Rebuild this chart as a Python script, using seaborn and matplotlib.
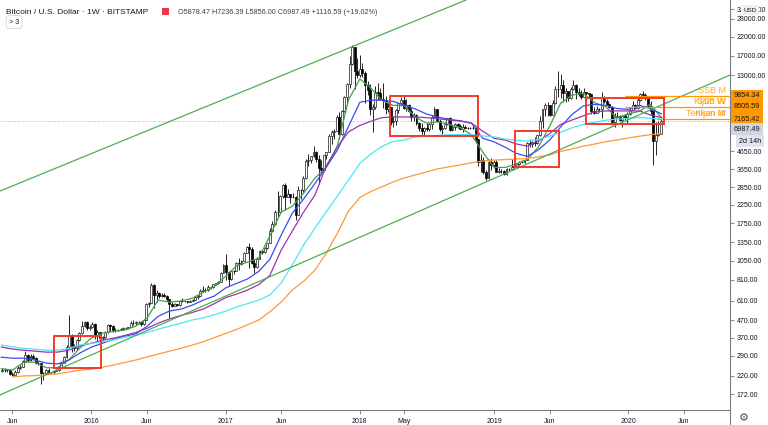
import matplotlib
matplotlib.use("Agg")
import matplotlib.pyplot as plt
import matplotlib.dates as mdates
from matplotlib.patches import Rectangle
from matplotlib.lines import Line2D
from matplotlib.ticker import NullLocator
import numpy as np
import pandas as pd
import seaborn as sns

# ---- weekly candles (BITSTAMP BTCUSD), one per week from 2015-05-04 ----
first_week = "2015-05-04"
first_open = 236.0
last_open = 5878.47

closes = [
    # 2015
    240, 237, 240, 225, 223, 232, 244, 250, 270, 292, 275, 289, 282, 262, 261, 230, 228, 240,
    232, 231, 235, 239, 245, 262, 283, 325, 385, 330, 323, 360, 395, 435, 455, 422, 430,
    # 2016
    448, 380, 402, 370, 374, 400, 437, 432, 412, 413, 410, 417, 420, 421, 428, 450, 451, 459,
    456, 443, 468, 585, 590, 760, 660, 680, 650, 660, 655, 623, 585, 568, 585, 575, 610, 607,
    605, 603, 612, 617, 640, 653, 700, 705, 705, 740, 735, 765, 775, 790, 895, 995,
    # 2017
    905, 820, 920, 915, 1020, 1000, 1050, 1165, 1270, 1230, 1020, 960, 1080, 1195, 1180, 1250,
    1340, 1570, 1740, 2050, 2050, 2520, 2950, 2510, 2590, 2500, 2500, 1950, 2750, 2750, 3250,
    4050, 4100, 4350, 4600, 4200, 3680, 3600, 4400, 4600, 5680, 6000, 6150, 7400, 5850, 8000,
    9700, 11500, 15200, 19000, 13900, 13000,
    # 2018
    14100, 13500, 11400, 10600, 8200, 8500, 10400, 10300, 9500, 9300, 8200, 8500, 6900, 7000,
    8100, 8900, 9300, 8400, 8700, 8000, 7350, 7650, 6800, 6400, 6100, 6380, 6300, 6700, 7400,
    8200, 7000, 6300, 6390, 6700, 7300, 6230, 6490, 6720, 6570, 6290, 6460, 6400, 6340, 6370,
    6390, 5500, 4000, 4140, 3520, 3210, 4010, 3860, 4020,
    # 2019
    3510, 3540, 3540, 3410, 3650, 3670, 3760, 3800, 3920, 4000, 3990, 4100, 5190, 5150, 5300,
    5200, 5760, 6980, 8200, 8730, 8740, 7640, 8890, 10830, 10820, 11450, 10250, 10570, 9530,
    10830, 11390, 10330, 10150, 9760, 10400, 10310, 10040, 8050, 7860, 8300, 8240, 9550, 9210,
    8800, 8510, 6910, 7420, 7520, 7080, 7510, 7390, 7750,
    # 2020
    8180, 8710, 8340, 9330, 10150, 9920, 9660, 8540, 8040, 5360, 5820, 5870.90, 6987.49,
]
highs = [
    246, 244, 242, 241, 231, 237, 252, 254, 275, 310, 295, 296, 297, 285, 268, 262, 233, 242,
    245, 233, 238, 241, 248, 266, 289, 335, 502, 390, 338, 364, 400, 466, 466, 466, 438,
    459, 450, 412, 398, 380, 405, 445, 443, 438, 422, 418, 420, 425, 425, 430, 462, 468, 465,
    462, 457, 475, 590, 600, 780, 770, 710, 690, 680, 675, 660, 620, 600, 592, 588, 615, 635,
    612, 610, 618, 622, 645, 660, 720, 745, 722, 755, 745, 770, 780, 795, 905, 1000,
    1150, 915, 925, 930, 1030, 1085, 1060, 1180, 1290, 1330, 1260, 1080, 1100, 1210, 1215, 1260,
    1345, 1640, 1800, 2100, 2700, 2580, 2980, 3000, 2780, 2600, 2620, 2520, 2900, 2780, 3300,
    4200, 4480, 4380, 4980, 4690, 4400, 4100, 4420, 4620, 5850, 6200, 6300, 7600, 7900, 8100,
    9800, 11800, 17000, 19666, 19000, 16500,
    17200, 15300, 13800, 12000, 11600, 8800, 11200, 11800, 11000, 11700, 9900, 9100, 8500, 7500,
    8200, 9000, 9750, 9950, 9400, 8800, 8400, 7800, 7750, 6880, 6800, 6500, 6800, 6800, 7550,
    8500, 8250, 7150, 6600, 6900, 7300, 7400, 6600, 6800, 6800, 6700, 6700, 6650, 6500, 6450,
    6550, 6450, 5500, 4500, 4300, 3600, 4200, 4250, 4100,
    4100, 3680, 3650, 3620, 3700, 3700, 4200, 3900, 3950, 4050, 4100, 4140, 5300, 5450, 5350,
    5650, 5800, 7500, 8300, 8900, 9100, 8100, 9300, 11200, 13800, 13200, 12300, 10900, 10200,
    11100, 12300, 11500, 10950, 10600, 10900, 10450, 10300, 10100, 8500, 8600, 8400, 10400, 9800,
    9450, 9000, 8600, 7850, 7950, 7600, 7550, 7700, 7900,
    8450, 9200, 8800, 9580, 10200, 10500, 10200, 9900, 9200, 7980, 6900, 6980, 7236.39,
]
lows = [
    232, 233, 232, 223, 220, 223, 230, 241, 248, 266, 265, 271, 278, 258, 256, 198, 209, 225,
    228, 226, 225, 234, 234, 244, 262, 281, 320, 305, 310, 315, 355, 390, 428, 410, 413,
    421, 365, 350, 362, 360, 368, 395, 405, 399, 400, 406, 408, 410, 414, 418, 425, 442, 440,
    448, 436, 440, 468, 560, 590, 550, 600, 630, 645, 645, 610, 480, 560, 565, 565, 568, 600,
    598, 592, 597, 606, 615, 628, 650, 685, 690, 695, 720, 725, 755, 765, 790, 890,
    810, 750, 810, 880, 910, 930, 990, 1050, 1160, 950, 1000, 890, 955, 1075, 1150, 1175,
    1240, 1340, 1560, 1700, 1900, 2000, 2450, 2100, 2500, 2300, 2450, 1830, 1950, 2420, 2680,
    3200, 3800, 3950, 4300, 4000, 2980, 3500, 3580, 4200, 4600, 5100, 5460, 6100, 5500, 5800,
    7900, 9000, 11000, 15000, 10800, 12500,
    12800, 12700, 9000, 10000, 7600, 6000, 8200, 9300, 9300, 8400, 7700, 7900, 6600, 6450,
    6600, 7800, 8600, 8300, 8000, 7950, 7050, 7000, 6600, 6150, 5800, 5780, 6100, 6100, 6300,
    7350, 6900, 6100, 5900, 6300, 6650, 6150, 6150, 6200, 6400, 6250, 6000, 6350, 6300, 6250,
    6300, 5200, 3800, 3500, 3400, 3150, 3200, 3600, 3700,
    3500, 3480, 3450, 3380, 3350, 3570, 3600, 3700, 3680, 3850, 3950, 3950, 4100, 4900, 4950,
    5000, 5150, 5700, 6400, 7500, 7500, 7450, 7550, 8850, 9700, 9600, 9100, 9100, 9200, 9400,
    10600, 9500, 9800, 9400, 9700, 9950, 9600, 7750, 7700, 7900, 7900, 7300, 8950, 8650, 8350,
    6600, 6500, 7250, 7000, 6450, 7100, 6850,
    7650, 8150, 8300, 8250, 9150, 9600, 9300, 8500, 7630, 3850, 4400, 5700, 5856.00,
]

# ---- moving averages, one value per month ----
ma_start, ma_end = "2015-05-01", "2020-04-01"
ma_green = [
    243, 238, 265, 265, 246, 246, 273, 321,
    367, 393, 403, 410, 432, 483, 616, 600, 608, 631, 684, 741,
    852, 987, 1030, 1090, 1470, 2035, 2200, 2630, 3230, 3710, 5000, 9300,
    12400, 10900, 9300, 8660, 8660, 7390, 6800, 6930, 6700, 6400, 5800, 4600,
    3730, 3730, 3900, 4150, 4890, 6500, 8900, 9950, 10200, 9000, 8500, 7300,
    7700, 8000, 8800, 7300,
]
ma_blue = [
    284, 280, 280, 273, 262, 259, 273, 300,
    325, 343, 362, 377, 389, 432, 494, 531, 545, 574, 616, 651,
    727, 775, 820, 910, 1070, 1490, 2000, 2430, 3000, 3730, 4720, 6500,
    9030, 9300, 9300, 9150, 8700, 8250, 7710, 7390, 7160, 7030, 6800, 5540,
    5280, 4900, 4530, 4330, 4720, 5400, 6450, 7650, 8600, 8780, 8660, 8300,
    8200, 8660, 8300, 7710,
]
ma_purple = [
    326, 317, 312, 308, 304, 304, 312, 330,
    343, 358, 367, 381, 397, 420, 450, 477, 500, 520, 546, 587,
    637, 670, 706, 760, 860, 1215, 1570, 2035, 2570, 3790, 4940, 6040,
    6600, 6990, 7330, 7400, 7400, 7400, 7330, 7230, 7100, 7000, 6800, 6110,
    5540, 5400, 5140, 4980, 5330, 5890, 6680, 7100, 7510, 7920, 8030, 8030,
    8030, 8030, 7610, 7330,
]
ma_cyan = [
    335, 327, 320, 316, 312, 312, 320, 335,
    342, 350, 358, 372, 381, 397, 415, 432, 450, 470, 484, 505,
    530, 562, 587, 616, 660, 777, 990, 1300, 1640, 2035, 2530, 3140,
    3940, 4500, 4950, 5300, 5410, 5650, 5730, 5760, 5820, 5820, 5820, 5730,
    5650, 5480, 5400, 5330, 5450, 5700, 6000, 6390, 6690, 6880, 7080, 7180,
    7260, 7360, 7260, 7180,
]
ma_orange = [
    np.nan, 217, 220, 221, 224, 226, 232, 238,
    241, 248, 255, 264, 273, 285, 296, 308, 320, 334, 350, 370,
    392, 415, 440, 470, 525, 600, 706, 795, 926, 1160, 1530, 2060,
    2480, 2700, 2860, 3060, 3230, 3370, 3510, 3660, 3760, 3860, 3970, 4070,
    4120, 4150, 4180, 4210, 4300, 4420, 4640, 4790, 4980, 5120, 5290, 5410,
    5560, 5700, 5820, 5900,
]
ma_names = ["green", "blue", "purple", "cyan", "orange"]
ma_colors = {"green": "#43a047", "blue": "#3a4cf0", "purple": "#9c33b0",
             "cyan": "#4fe6f2", "orange": "#ff9838"}

# ---- trend channel ----
channel_low_dates = ["2015-04-28", "2020-10-04"]
channel_low_prices = [170, 13070]
channel_up_dates = ["2015-04-28", "2018-10-17"]
channel_up_prices = [2707, 36200]

# ---- red boxes ----
box_starts = ["2015-09-22", "2018-03-24", "2019-02-27", "2019-09-08"]
box_ends = ["2016-01-28", "2018-11-18", "2019-06-26", "2020-04-07"]
box_lows = [245, 5680, 3745, 6710]
box_highs = [378, 9830, 6100, 9570]

# ---- ichimoku levels ----
level_prices = [9854.34, 8505.59, 7165.42]
level_starts = ["2019-12-23", "2019-12-23", "2020-03-19"]
level_names = [["SSB M"], ["SSB W", "Kijun W"], ["Tenkan W", "Kijun M"]]

last_close = 6987.49
prev_close = 5870.90
time_left = "2d 14h"

ytick_values = [172, 220, 290, 370, 470, 610, 810, 1050, 1350, 1750, 2250, 2850, 3650,
                4650, 13000, 17000, 22000, 28000, 32000]
xtick_dates = ["2015-06-01", "2016-01-01", "2016-06-01", "2017-01-01", "2017-06-01",
               "2018-01-01", "2018-05-01", "2019-01-01", "2019-06-01", "2020-01-01", "2020-06-01"]
xtick_labels = ["Jun", "2016", "Jun", "2017", "Jun", "2018", "May", "2019", "Jun", "2020", "Jun"]
x_range = ["2015-04-28", "2020-10-04"]
y_range = [138.6, 36200]

sns.set_theme(style="white")
plt.rcParams["font.family"] = ["Liberation Sans", "DejaVu Sans"]

fig = plt.figure(figsize=(7.68, 4.25), dpi=100)
ax = fig.add_axes([0, 15 / 425, 730 / 768, 410 / 425])
ax.set_yscale("log")

# moving averages
ma_dates = pd.date_range(ma_start, ma_end, freq="MS")
ma_df = pd.DataFrame({
    "date": np.tile(ma_dates.values, len(ma_names)),
    "value": np.concatenate([ma_green, ma_blue, ma_purple, ma_cyan, ma_orange]),
    "line": np.repeat(ma_names, len(ma_dates)),
})
sns.lineplot(data=ma_df, x="date", y="value", hue="line", hue_order=ma_names,
             palette=ma_colors, estimator=None, lw=0.9, legend=False, ax=ax, zorder=5)

# candles: hollow up weeks, filled down weeks
weeks = pd.date_range(first_week, periods=len(closes), freq="7D")
opens = [first_open] + closes[:-1]
opens[-1] = last_open
c = np.array(closes, dtype=float)
o = np.array(opens, dtype=float)
up = c >= o
xw = mdates.date2num(weeks)
ax.vlines(xw, lows, highs, color="black", lw=0.6, zorder=3)
ax.bar(xw[up], (c - o)[up], bottom=o[up], width=5.2, color="white",
       edgecolor="#1a1a1a", lw=0.5, zorder=4)
ax.bar(xw[~up], (o - c)[~up], bottom=c[~up], width=5.2, color="black",
       edgecolor="black", lw=0.5, zorder=4)

# trend channel
for d, p in [(channel_low_dates, channel_low_prices), (channel_up_dates, channel_up_prices)]:
    ax.plot(mdates.date2num(pd.to_datetime(d)), p, color="#4caf50", lw=0.9, zorder=6)

# red boxes
for s, e, lo, hi in zip(box_starts, box_ends, box_lows, box_highs):
    x0, x1 = mdates.date2num(pd.to_datetime([s, e]))
    ax.add_patch(Rectangle((x0, lo), x1 - x0, hi - lo, fill=False,
                           ec="#f23a2a", lw=1.4, zorder=7))

xlim = mdates.date2num(pd.to_datetime(x_range))
ax.set_xlim(*xlim)
ax.set_ylim(*y_range)

# last price dotted line
ax.axhline(last_close, color="#9598a1", lw=0.6, ls=(0, (1, 2)), zorder=1)

# ichimoku levels
ytr = ax.get_yaxis_transform()
for lv, st, names in zip(level_prices, level_starts, level_names):
    ax.hlines(lv, mdates.date2num(pd.Timestamp(st)), xlim[1], color="#ff9800", lw=0.9, zorder=6)
    for nm in names:
        ax.annotate(nm, xy=(0.994, lv), xycoords=ytr, xytext=(0, 1),
                    textcoords="offset pixels", ha="right", va="bottom",
                    fontsize=6.5, color="#ff9800", alpha=0.85, zorder=8)
    ax.annotate(f"{lv:.2f}", xy=(1, lv), xycoords=ytr, xytext=(4, 0),
                textcoords="offset pixels", ha="left", va="center", fontsize=5.2,
                color="#131722", annotation_clip=False,
                bbox=dict(boxstyle="square,pad=0.35", fc="#ff9800", ec="none"))

ax.annotate(f"{last_close:.2f}", xy=(1, last_close), xycoords=ytr, xytext=(4, -8),
            textcoords="offset pixels", ha="left", va="center", fontsize=5.2,
            color="#131722", annotation_clip=False,
            bbox=dict(boxstyle="square,pad=0.35", fc="#d1d4dc", ec="none"))
ax.annotate(time_left, xy=(1, last_close), xycoords=ytr, xytext=(9, -20),
            textcoords="offset pixels", ha="left", va="center", fontsize=5.2,
            color="#131722", annotation_clip=False,
            bbox=dict(boxstyle="square,pad=0.35", fc="#e0e3eb", ec="none"))

# axes styling
ax.yaxis.tick_right()
ax.set_yticks(ytick_values)
ax.set_yticklabels([f"{v:.2f}" for v in ytick_values])
ax.yaxis.set_minor_locator(NullLocator())
ax.set_xticks(mdates.date2num(pd.to_datetime(xtick_dates)))
ax.set_xticklabels(xtick_labels)
ax.set_xlabel("")
ax.set_ylabel("")
ax.tick_params(axis="y", which="major", length=3, width=0.6, color="#787b86",
               labelsize=5, labelcolor="#131722", pad=2, right=True, left=False,
               labelright=True, labelleft=False)
ax.tick_params(axis="x", length=3, width=0.6, color="#787b86", labelsize=5,
               labelcolor="#131722", pad=3, bottom=True)
for sp in ["left", "top"]:
    ax.spines[sp].set_visible(False)
for sp in ["right", "bottom"]:
    ax.spines[sp].set_color("#787b86")
    ax.spines[sp].set_linewidth(0.8)
ax.grid(False)

fig.add_artist(Line2D([730 / 768, 730 / 768], [0, 15 / 425], color="#787b86", lw=0.8))
fig.text(744 / 768, 1 - 418 / 425, "\u2699", fontsize=8, color="#50535e",
         ha="center", va="center")

# header
chg = last_close - prev_close
pct = chg / prev_close * 100
fig.text(6 / 768, 1 - 12 / 425, "Bitcoin / U.S. Dollar \u00b7 1W \u00b7 BITSTAMP",
         fontsize=6, color="#131722", ha="left", va="center")
fig.add_artist(Rectangle((162 / 768, 1 - 15 / 425), 7 / 768, 7 / 425,
                         transform=fig.transFigure, fc="#f23645", ec="none"))
fig.text(178 / 768, 1 - 12 / 425,
         f"O{last_open:.2f} H{highs[-1]:.2f} L{lows[-1]:.2f} C{last_close:.2f} "
         f"{chg:+.2f} ({pct:+.2f}%)",
         fontsize=5.2, color="#3b3e48", ha="left", va="center")
fig.text(9 / 768, 1 - 22 / 425, "> 3", fontsize=5.2, color="#131722", ha="left", va="center",
         bbox=dict(boxstyle="round,pad=0.4", fc="white", ec="#d1d4dc", lw=0.6))
fig.text(750 / 768, 1 - 10 / 425, "USD", fontsize=4.5, color="#131722", ha="center",
         va="center", bbox=dict(boxstyle="square,pad=0.4", fc="#eef0f4", ec="none"))

fig.savefig("out.png", dpi=100)
